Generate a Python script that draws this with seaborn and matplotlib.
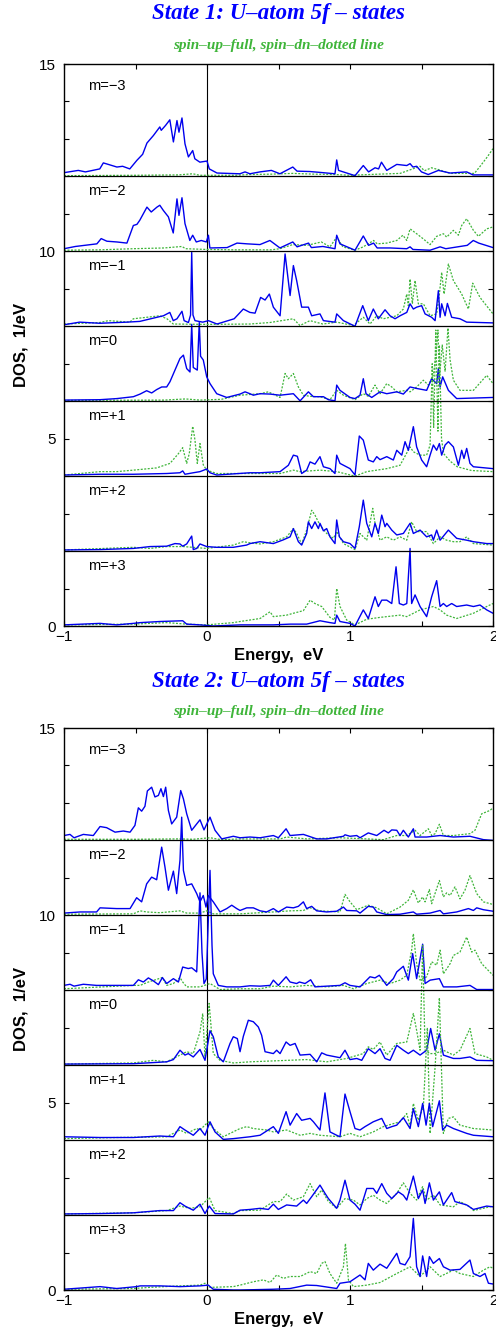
import numpy as np
import pandas as pd
import matplotlib
matplotlib.use("Agg")
import matplotlib.pyplot as plt
from matplotlib.ticker import MultipleLocator, FixedLocator
import seaborn as sns

# ---------------- DATA (energy eV, DOS 1/eV) ----------------
# orbital labels (top to bottom) and their vertical offsets
M_LABELS = ["m=\u22123", "m=\u22122", "m=\u22121", "m=0", "m=+1", "m=+2", "m=+3"]
OFFSETS = [12, 10, 8, 6, 4, 2, 0]
X_TICKS = [-1, 0, 1, 2]
X_TICK_LABELS = ["\u22121", "0", "1", "2"]
Y_TICKS = [0, 5, 10, 15]

# ---- State 1, spin up ----
s1_up_m3n = [(-1.00,0.10),(-0.90,0.16),(-0.85,0.12),(-0.75,0.20),(-0.725,0.36),(-0.69,0.32),(-0.63,0.25),(-0.59,0.27),(-0.54,0.20),(-0.49,0.43),(-0.45,0.59),(-0.42,0.89),(-0.375,1.09),(-0.33,1.32),(-0.32,1.23),(-0.29,1.36),(-0.26,1.51),(-0.235,0.92),(-0.21,1.49),(-0.196,1.18),(-0.175,1.56),(-0.154,0.87),(-0.13,0.52),(-0.10,0.69),(-0.085,0.47),(-0.05,0.38),(0.00,0.41),(0.016,0.20),(0.07,0.09),(0.23,0.07),(0.266,0.12),(0.30,0.07),(0.37,0.12),(0.45,0.16),(0.51,0.07),(0.60,0.25),(0.63,0.14),(0.72,0.13),(0.81,0.10),(0.895,0.07),(0.907,0.44),(0.92,0.16),(1.035,0.02),(1.093,0.29),(1.13,0.12),(1.175,0.23),(1.20,0.20),(1.22,0.38),(1.257,0.16),(1.327,0.32),(1.397,0.29),(1.42,0.34),(1.44,0.25),(1.466,0.27),(1.50,0.12),(1.547,0.05),(1.618,0.16),(1.70,0.09),(1.816,0.12),(1.86,0.04),(2.0,0.04)]
s1_up_m2n = [(-1.0,0.07),(-0.92,0.13),(-0.77,0.20),(-0.74,0.34),(-0.70,0.27),(-0.63,0.25),(-0.56,0.22),(-0.515,0.69),(-0.49,0.72),(-0.47,0.83),(-0.42,1.18),(-0.39,1.05),(-0.35,1.18),(-0.33,1.23),(-0.305,1.09),(-0.27,0.92),(-0.236,0.49),(-0.21,1.40),(-0.196,0.96),(-0.175,1.43),(-0.154,0.74),(-0.12,0.29),(-0.10,0.43),(-0.075,0.25),(-0.04,0.29),(-0.005,0.25),(0.01,0.43),(0.02,0.09),(0.14,0.10),(0.21,0.22),(0.28,0.20),(0.37,0.18),(0.44,0.29),(0.51,0.09),(0.60,0.25),(0.63,0.12),(0.71,0.22),(0.73,0.10),(0.81,0.13),(0.895,0.07),(0.907,0.43),(0.93,0.20),(1.035,0.03),(1.093,0.41),(1.13,0.16),(1.165,0.22),(1.19,0.09),(1.28,0.09),(1.397,0.07),(1.42,0.12),(1.44,0.05),(1.56,0.03),(1.63,0.12),(1.67,0.07),(1.82,0.16),(1.862,0.29),(1.90,0.22),(2.0,0.10)]
s1_up_m1n = [(-1.0,0.04),(-0.89,0.11),(-0.75,0.08),(-0.56,0.11),(-0.47,0.13),(-0.35,0.24),(-0.305,0.28),(-0.26,0.37),(-0.236,0.15),(-0.21,0.20),(-0.175,0.40),(-0.16,0.15),(-0.13,0.10),(-0.115,0.30),(-0.107,1.97),(-0.098,0.30),(-0.084,0.15),(-0.03,0.11),(0.01,0.15),(0.07,0.06),(0.19,0.20),(0.254,0.46),(0.30,0.37),(0.336,0.35),(0.375,0.77),(0.406,0.70),(0.436,0.86),(0.464,0.51),(0.511,0.28),(0.546,1.93),(0.581,0.82),(0.604,1.62),(0.627,1.22),(0.662,0.51),(0.709,0.51),(0.732,0.28),(0.79,0.33),(0.814,0.15),(0.895,0.11),(0.907,0.33),(0.954,0.15),(1.035,0.0),(1.089,0.55),(1.128,0.15),(1.163,0.46),(1.198,0.20),(1.245,0.44),(1.28,0.28),(1.315,0.20),(1.35,0.28),(1.397,0.37),(1.42,0.60),(1.443,0.46),(1.466,0.51),(1.501,0.55),(1.525,0.33),(1.571,0.24),(1.595,0.15),(1.618,0.95),(1.63,0.24),(1.641,0.60),(1.665,0.28),(1.681,0.61),(1.711,0.24),(1.769,0.20),(1.816,0.11),(2.0,0.09)]
s1_up_m0 = [(-1.0,0.03),(-0.75,0.04),(-0.63,0.07),(-0.515,0.12),(-0.468,0.19),(-0.422,0.28),(-0.387,0.22),(-0.352,0.31),(-0.317,0.38),(-0.282,0.38),(-0.259,0.52),(-0.224,0.83),(-0.189,1.14),(-0.165,1.23),(-0.142,0.87),(-0.119,0.78),(-0.107,2.05),(-0.096,0.90),(-0.068,0.83),(-0.054,2.10),(-0.045,1.20),(-0.026,1.10),(-0.002,0.65),(0.021,0.47),(0.068,0.20),(0.138,0.10),(0.231,0.19),(0.266,0.25),(0.30,0.20),(0.324,0.16),(0.371,0.20),(0.441,0.19),(0.511,0.16),(0.604,0.20),(0.651,0.01),(0.709,0.25),(0.744,0.12),(0.814,0.12),(0.849,0.04),(0.895,0.01),(0.907,0.43),(0.93,0.29),(1.0,0.10),(1.035,0.07),(1.07,0.16),(1.093,0.60),(1.112,0.20),(1.152,0.10),(1.21,0.25),(1.257,0.20),(1.327,0.25),(1.373,0.19),(1.42,0.38),(1.466,0.34),(1.536,0.29),(1.571,0.60),(1.606,0.47),(1.618,0.87),(1.63,0.38),(1.648,0.65),(1.688,0.29),(1.746,0.07),(2.0,0.10)]
s1_up_m1p = [(-1.0,0.03),(-0.75,0.05),(-0.515,0.05),(-0.282,0.07),(-0.189,0.09),(-0.170,0.14),(-0.154,0.05),(-0.096,0.09),(-0.049,0.12),(-0.002,0.19),(0.021,0.09),(0.068,0.03),(0.30,0.09),(0.371,0.09),(0.511,0.12),(0.569,0.29),(0.604,0.56),(0.632,0.53),(0.662,0.07),(0.697,0.16),(0.721,0.38),(0.755,0.32),(0.79,0.52),(0.814,0.25),(0.86,0.20),(0.895,0.07),(0.907,0.56),(0.93,0.34),(1.0,0.20),(1.035,0.03),(1.065,1.07),(1.093,0.96),(1.128,0.43),(1.163,0.38),(1.187,0.52),(1.21,0.44),(1.257,0.52),(1.303,0.43),(1.327,0.69),(1.362,0.56),(1.385,0.92),(1.408,0.69),(1.443,1.32),(1.466,0.78),(1.501,0.43),(1.536,0.25),(1.56,0.56),(1.583,0.83),(1.606,0.69),(1.625,0.87),(1.641,0.56),(1.665,0.83),(1.688,0.92),(1.723,0.78),(1.758,0.29),(1.781,0.69),(1.797,0.47),(1.816,0.74),(1.839,0.34),(1.863,0.25),(2.0,0.20)]
s1_up_m2p = [(-1.0,0.03),(-0.748,0.04),(-0.515,0.07),(-0.399,0.12),(-0.282,0.13),(-0.224,0.20),(-0.189,0.19),(-0.170,0.13),(-0.142,0.19),(-0.107,0.40),(-0.096,0.04),(-0.072,0.07),(-0.049,0.19),(-0.002,0.12),(0.068,0.10),(0.184,0.10),(0.277,0.16),(0.301,0.20),(0.371,0.25),(0.464,0.20),(0.534,0.30),(0.581,0.38),(0.604,0.60),(0.639,0.25),(0.662,0.16),(0.697,0.47),(0.709,0.78),(0.732,0.60),(0.755,0.78),(0.779,0.60),(0.79,0.74),(0.814,0.54),(0.837,0.60),(0.86,0.38),(0.895,0.20),(0.907,0.83),(0.926,0.38),(0.954,0.25),(1.0,0.20),(1.035,0.07),(1.065,0.65),(1.093,1.36),(1.117,0.74),(1.152,0.38),(1.175,0.74),(1.198,0.47),(1.222,0.96),(1.245,0.65),(1.257,0.74),(1.292,0.56),(1.327,0.43),(1.373,0.47),(1.42,0.74),(1.443,0.47),(1.49,0.56),(1.536,0.38),(1.571,0.43),(1.583,0.29),(1.606,0.56),(1.63,0.29),(1.688,0.56),(1.746,0.34),(1.816,0.29),(1.863,0.25),(1.956,0.20),(2.0,0.20)]
s1_up_m3p = [(-1.0,0.03),(-0.748,0.07),(-0.632,0.03),(-0.515,0.07),(-0.468,0.09),(-0.329,0.12),(-0.170,0.14),(-0.142,0.05),(-0.049,0.03),(0.044,0.0),(0.231,0.03),(0.464,0.03),(0.581,0.05),(0.697,0.05),(0.79,0.14),(0.86,0.09),(0.895,0.07),(0.907,0.29),(0.93,0.12),(1.0,0.07),(1.035,0.0),(1.093,0.43),(1.128,0.20),(1.175,0.78),(1.198,0.52),(1.222,0.69),(1.257,0.69),(1.292,0.60),(1.322,1.58),(1.345,0.60),(1.373,0.56),(1.397,0.60),(1.42,2.07),(1.431,0.60),(1.455,0.83),(1.49,0.52),(1.536,0.25),(1.571,0.78),(1.606,1.21),(1.63,0.52),(1.653,0.60),(1.676,0.52),(1.711,0.60),(1.746,0.52),(1.816,0.56),(1.863,0.52),(1.909,0.56),(1.956,0.43),(2.0,0.34)]

# ---- State 1, spin down ----
s1_dn_m3n = [(-1.0,0.02),(-0.5,0.03),(-0.2,0.04),(-0.1,0.07),(-0.05,0.03),(0.2,0.03),(0.3,0.05),(0.45,0.06),(0.6,0.08),(0.75,0.06),(0.9,0.05),(1.0,0.03),(1.2,0.06),(1.35,0.08),(1.49,0.27),(1.52,0.15),(1.57,0.23),(1.62,0.18),(1.70,0.08),(1.87,0.08),(1.91,0.27),(1.96,0.52),(2.0,0.74)]
s1_dn_m2n = [(-1.0,0.03),(-0.75,0.04),(-0.515,0.07),(-0.30,0.09),(-0.175,0.13),(-0.15,0.07),(0.0,0.05),(0.2,0.04),(0.45,0.04),(0.51,0.07),(0.60,0.18),(0.70,0.16),(0.80,0.25),(0.86,0.12),(0.907,0.38),(0.95,0.12),(1.035,0.03),(1.093,0.12),(1.165,0.29),(1.19,0.20),(1.257,0.22),(1.327,0.29),(1.37,0.43),(1.397,0.29),(1.42,0.60),(1.466,0.47),(1.51,0.34),(1.56,0.18),(1.606,0.40),(1.653,0.47),(1.676,0.38),(1.723,0.56),(1.758,0.43),(1.781,0.69),(1.816,0.87),(1.863,0.56),(1.898,0.40),(1.956,0.60),(2.0,0.65)]
s1_dn_m1n = [(-1.0,0.06),(-0.75,0.10),(-0.69,0.15),(-0.54,0.11),(-0.515,0.20),(-0.42,0.24),(-0.33,0.28),(-0.28,0.20),(-0.236,0.06),(0.0,0.05),(0.3,0.06),(0.44,0.10),(0.604,0.20),(0.65,0.02),(0.72,0.15),(0.81,0.06),(0.907,0.11),(1.024,0.02),(1.093,0.24),(1.14,0.06),(1.187,0.28),(1.233,0.20),(1.327,0.28),(1.373,0.46),(1.397,0.86),(1.408,0.55),(1.42,1.26),(1.436,0.60),(1.455,1.22),(1.478,0.60),(1.513,0.60),(1.56,0.28),(1.606,0.33),(1.625,0.86),(1.641,1.44),(1.658,0.86),(1.688,1.66),(1.723,1.22),(1.781,0.86),(1.828,0.46),(1.858,1.15),(1.909,0.77),(2.0,0.33)]
s1_dn_m0 = [(-1.0,0.02),(-0.3,0.03),(-0.15,0.06),(-0.05,0.03),(0.1,0.05),(0.231,0.16),(0.371,0.20),(0.429,0.25),(0.511,0.10),(0.546,0.74),(0.569,0.60),(0.604,0.74),(0.639,0.38),(0.674,0.16),(0.721,0.13),(0.79,0.12),(0.86,0.04),(0.907,0.29),(0.954,0.16),(1.035,0.04),(1.093,0.20),(1.128,0.13),(1.175,0.43),(1.21,0.20),(1.257,0.47),(1.292,0.38),(1.327,0.25),(1.397,0.29),(1.42,0.25),(1.466,0.38),(1.513,0.56),(1.548,0.43),(1.583,0.70),(1.60,1.20),(1.615,1.90),(1.625,0.60),(1.645,1.50),(1.665,0.80),(1.685,1.95),(1.70,1.10),(1.723,0.56),(1.769,0.29),(1.863,0.29),(1.956,0.69),(2.0,0.47)]
s1_dn_m1p = [(-1.0,0.03),(-0.748,0.12),(-0.632,0.12),(-0.515,0.16),(-0.352,0.22),(-0.259,0.34),(-0.20,0.60),(-0.170,0.76),(-0.142,0.34),(-0.124,0.60),(-0.10,1.33),(-0.084,0.96),(-0.068,0.34),(-0.049,0.87),(-0.026,0.30),(-0.002,0.16),(0.068,0.07),(0.3,0.07),(0.511,0.07),(0.604,0.16),(0.651,0.12),(0.79,0.16),(0.907,0.12),(1.035,0.0),(1.117,0.12),(1.257,0.20),(1.35,0.29),(1.42,0.78),(1.443,0.65),(1.49,0.56),(1.536,0.56),(1.56,0.83),(1.575,3.0),(1.585,1.3),(1.600,3.9),(1.615,1.2),(1.625,3.5),(1.64,1.0),(1.655,0.6),(1.70,0.4),(1.75,0.25),(1.85,0.15),(2.0,0.12)]
s1_dn_m2p = [(-1.0,0.03),(-0.515,0.10),(-0.399,0.07),(-0.282,0.12),(-0.165,0.12),(-0.002,0.07),(0.184,0.16),(0.254,0.25),(0.301,0.22),(0.371,0.19),(0.464,0.25),(0.557,0.38),(0.604,0.60),(0.627,0.47),(0.662,0.19),(0.697,0.56),(0.732,1.09),(0.755,0.96),(0.79,0.69),(0.837,0.47),(0.884,0.34),(0.907,0.52),(0.954,0.20),(1.035,0.04),(1.07,0.47),(1.117,0.29),(1.159,1.14),(1.175,0.74),(1.21,0.29),(1.257,0.38),(1.303,0.29),(1.35,0.38),(1.397,0.29),(1.431,0.78),(1.466,0.52),(1.536,0.52),(1.583,0.20),(1.63,0.38),(1.676,0.29),(1.723,0.25),(1.769,0.25),(1.816,0.38),(1.863,0.20),(2.0,0.16)]
s1_dn_m3p = [(-1.0,0.03),(-0.515,0.05),(-0.282,0.09),(-0.142,0.05),(-0.002,0.03),(0.184,0.09),(0.231,0.12),(0.301,0.16),(0.371,0.20),(0.441,0.38),(0.464,0.25),(0.557,0.29),(0.604,0.34),(0.674,0.41),(0.721,0.69),(0.755,0.60),(0.802,0.52),(0.86,0.23),(0.891,0.16),(0.907,1.00),(0.93,0.52),(0.977,0.16),(1.035,0.03),(1.117,0.18),(1.21,0.23),(1.35,0.29),(1.397,0.25),(1.49,0.43),(1.583,0.52),(1.63,0.43),(1.676,0.29),(1.746,0.20),(1.863,0.34),(1.956,0.52),(2.0,0.60)]

# ---- State 2, spin up ----
s2_up_m3n = [(-1.0,0.13),(-0.958,0.16),(-0.93,0.07),(-0.865,0.16),(-0.795,0.13),(-0.748,0.37),(-0.702,0.34),(-0.643,0.22),(-0.585,0.25),(-0.538,0.22),(-0.504,0.40),(-0.48,0.87),(-0.457,0.78),(-0.434,0.91),(-0.417,1.32),(-0.387,1.42),(-0.364,1.16),(-0.340,1.20),(-0.322,1.38),(-0.305,1.17),(-0.289,1.42),(-0.270,0.80),(-0.247,0.44),(-0.212,0.62),(-0.184,1.33),(-0.165,1.11),(-0.142,0.71),(-0.107,0.27),(-0.072,0.44),(-0.049,0.55),(-0.021,0.28),(0.021,0.62),(0.056,0.27),(0.103,0.04),(0.161,0.09),(0.184,0.11),(0.231,0.07),(0.301,0.09),(0.371,0.07),(0.464,0.13),(0.499,0.07),(0.553,0.31),(0.581,0.13),(0.674,0.16),(0.767,0.04),(0.837,0.04),(0.954,0.11),(0.965,0.15),(1.0,0.11),(1.047,0.13),(1.07,0.07),(1.128,0.20),(1.187,0.13),(1.238,0.27),(1.268,0.20),(1.292,0.28),(1.327,0.27),(1.35,0.13),(1.373,0.27),(1.408,0.09),(1.443,0.31),(1.455,0.09),(1.536,0.09),(1.63,0.13),(1.723,0.09),(1.839,0.11),(1.933,0.02),(2.0,0.0)]
s2_up_m2n = [(-1.0,0.06),(-0.888,0.09),(-0.772,0.09),(-0.748,0.20),(-0.632,0.18),(-0.538,0.18),(-0.492,0.47),(-0.457,0.36),(-0.422,0.84),(-0.387,1.02),(-0.352,0.95),(-0.317,1.82),(-0.294,1.29),(-0.270,0.67),(-0.235,1.18),(-0.212,0.58),(-0.189,1.47),(-0.177,2.62),(-0.165,1.20),(-0.142,0.80),(-0.107,0.84),(-0.072,0.58),(-0.049,0.36),(-0.026,0.53),(-0.007,0.22),(0.009,0.53),(0.044,0.36),(0.091,0.09),(0.138,0.18),(0.173,0.27),(0.208,0.18),(0.231,0.13),(0.278,0.20),(0.324,0.20),(0.371,0.12),(0.417,0.09),(0.464,0.18),(0.499,0.09),(0.557,0.22),(0.604,0.20),(0.639,0.24),(0.674,0.36),(0.697,0.18),(0.732,0.24),(0.767,0.12),(0.837,0.09),(0.907,0.11),(0.954,0.22),(0.977,0.13),(1.047,0.12),(1.07,0.06),(1.128,0.24),(1.163,0.22),(1.187,0.09),(1.257,0.02),(1.35,0.03),(1.443,0.09),(1.466,0.03),(1.56,0.06),(1.63,0.13),(1.653,0.04),(1.746,0.09),(1.828,0.18),(1.863,0.13),(1.886,0.20),(1.933,0.15),(2.0,0.11)]
s2_up_m1n = [(-1.0,0.13),(-0.958,0.16),(-0.93,0.11),(-0.865,0.16),(-0.772,0.13),(-0.632,0.13),(-0.515,0.13),(-0.48,0.28),(-0.445,0.22),(-0.41,0.33),(-0.375,0.25),(-0.34,0.15),(-0.312,0.34),(-0.282,0.18),(-0.235,0.31),(-0.20,0.22),(-0.170,0.62),(-0.131,0.58),(-0.107,0.60),(-0.072,0.49),(-0.049,2.60),(-0.035,1.00),(-0.021,0.18),(-0.005,0.30),(0.021,3.20),(0.035,1.20),(0.044,0.44),(0.079,0.13),(0.138,0.09),(0.231,0.09),(0.301,0.12),(0.371,0.11),(0.441,0.13),(0.464,0.27),(0.499,0.13),(0.553,0.36),(0.581,0.22),(0.627,0.18),(0.646,0.22),(0.686,0.18),(0.725,0.28),(0.755,0.09),(0.837,0.11),(0.93,0.13),(0.965,0.20),(1.0,0.13),(1.07,0.09),(1.14,0.36),(1.175,0.33),(1.205,0.40),(1.257,0.13),(1.303,0.31),(1.327,0.49),(1.373,0.64),(1.408,0.27),(1.438,0.98),(1.466,0.31),(1.508,1.23),(1.525,0.18),(1.56,0.27),(1.625,0.31),(1.653,0.09),(1.746,0.09),(1.839,0.13),(1.886,0.02),(2.0,0.02)]
s2_up_m0 = [(-1.0,0.03),(-0.515,0.04),(-0.375,0.07),(-0.282,0.09),(-0.235,0.15),(-0.189,0.40),(-0.154,0.27),(-0.131,0.31),(-0.096,0.22),(-0.049,0.42),(-0.014,0.13),(0.021,0.92),(0.044,0.76),(0.079,0.22),(0.114,0.09),(0.161,0.58),(0.184,0.76),(0.212,0.71),(0.231,0.36),(0.254,0.77),(0.289,1.20),(0.324,1.16),(0.359,1.02),(0.382,0.80),(0.406,0.36),(0.464,0.31),(0.487,0.40),(0.511,0.31),(0.553,0.62),(0.581,0.53),(0.616,0.58),(0.651,0.27),(0.721,0.29),(0.767,0.09),(0.802,0.33),(0.837,0.27),(0.93,0.20),(0.965,0.40),(1.0,0.15),(1.047,0.18),(1.082,0.13),(1.128,0.44),(1.175,0.31),(1.21,0.44),(1.245,0.18),(1.28,0.13),(1.327,0.53),(1.373,0.40),(1.408,0.31),(1.443,0.40),(1.49,0.27),(1.536,0.40),(1.564,0.98),(1.595,0.40),(1.625,0.84),(1.653,0.27),(1.723,0.18),(1.769,0.18),(1.839,0.22),(1.886,0.13),(2.0,0.12)]
s2_up_m1p = [(-1.0,0.09),(-0.748,0.07),(-0.515,0.07),(-0.329,0.11),(-0.235,0.09),(-0.189,0.36),(-0.154,0.27),(-0.096,0.13),(-0.049,0.31),(-0.014,0.13),(0.021,0.49),(0.056,0.22),(0.114,0.02),(0.184,0.04),(0.301,0.09),(0.371,0.13),(0.464,0.36),(0.499,0.18),(0.553,0.76),(0.581,0.40),(0.627,0.71),(0.662,0.53),(0.721,0.58),(0.744,0.49),(0.79,0.27),(0.825,1.26),(0.86,0.22),(0.907,0.13),(0.93,0.09),(0.965,1.23),(1.0,0.76),(1.035,0.31),(1.07,0.27),(1.105,0.36),(1.163,0.49),(1.222,0.58),(1.257,0.31),(1.292,0.36),(1.327,0.40),(1.373,0.60),(1.42,0.31),(1.443,0.84),(1.478,0.36),(1.508,0.98),(1.532,0.40),(1.555,0.98),(1.578,0.36),(1.625,1.05),(1.648,0.27),(1.676,0.40),(1.723,0.31),(1.816,0.18),(1.863,0.13),(2.0,0.09)]
s2_up_m2p = [(-1.0,0.03),(-0.748,0.04),(-0.515,0.06),(-0.329,0.12),(-0.235,0.12),(-0.189,0.33),(-0.154,0.24),(-0.096,0.13),(-0.049,0.29),(-0.014,0.04),(0.016,0.24),(0.056,0.04),(0.184,0.03),(0.231,0.13),(0.301,0.15),(0.371,0.18),(0.429,0.15),(0.464,0.29),(0.499,0.15),(0.557,0.27),(0.627,0.24),(0.674,0.40),(0.697,0.31),(0.732,0.49),(0.79,0.80),(0.825,0.58),(0.849,0.44),(0.907,0.18),(0.93,0.40),(0.965,0.93),(1.0,0.40),(1.035,0.29),(1.07,0.13),(1.117,0.71),(1.163,0.71),(1.187,0.58),(1.222,0.84),(1.257,0.58),(1.292,0.44),(1.338,0.62),(1.373,0.53),(1.397,0.40),(1.443,1.04),(1.478,0.44),(1.508,0.67),(1.525,0.31),(1.555,0.86),(1.583,0.40),(1.625,0.62),(1.653,0.27),(1.711,0.60),(1.734,0.36),(1.816,0.27),(1.863,0.15),(1.956,0.24),(2.0,0.22)]
s2_up_m3p = [(-1.0,0.02),(-0.748,0.09),(-0.632,0.04),(-0.492,0.09),(-0.468,0.11),(-0.329,0.11),(-0.189,0.09),(-0.049,0.11),(0.009,0.13),(0.044,0.02),(0.184,0.0),(0.231,0.0),(0.464,0.02),(0.581,0.04),(0.697,0.13),(0.767,0.12),(0.907,0.04),(0.93,0.18),(1.0,0.22),(1.035,0.31),(1.07,0.40),(1.105,0.27),(1.128,0.71),(1.163,0.53),(1.21,0.69),(1.257,0.58),(1.327,0.98),(1.35,0.71),(1.385,0.67),(1.42,0.89),(1.443,1.91),(1.466,0.62),(1.49,0.36),(1.508,0.91),(1.536,0.36),(1.555,0.89),(1.583,0.71),(1.625,0.84),(1.653,0.62),(1.70,0.53),(1.769,0.55),(1.839,0.80),(1.863,0.44),(1.909,0.36),(1.944,0.44),(1.968,0.18),(2.0,0.16)]

# ---- State 2, spin down ----
s2_dn_m3n = [(-1.0,0.03),(-0.5,0.03),(-0.189,0.04),(-0.1,0.03),(0.021,0.07),(0.1,0.02),(0.231,0.04),(0.511,0.04),(0.557,0.09),(0.697,0.04),(0.93,0.07),(1.117,0.04),(1.233,0.02),(1.327,0.13),(1.397,0.13),(1.455,0.27),(1.49,0.13),(1.548,0.31),(1.571,0.13),(1.595,0.18),(1.625,0.43),(1.653,0.13),(1.723,0.13),(1.839,0.18),(1.874,0.27),(1.921,0.71),(1.979,0.80),(2.0,0.87)]
s2_dn_m2n = [(-1.0,0.03),(-0.515,0.04),(-0.468,0.12),(-0.422,0.09),(-0.329,0.07),(-0.189,0.12),(-0.142,0.06),(-0.049,0.06),(-0.002,0.12),(0.044,0.04),(0.231,0.04),(0.464,0.09),(0.581,0.12),(0.674,0.13),(0.721,0.20),(0.79,0.12),(0.93,0.09),(0.965,0.56),(1.0,0.36),(1.047,0.15),(1.128,0.27),(1.187,0.20),(1.257,0.04),(1.35,0.22),(1.408,0.40),(1.443,0.68),(1.478,0.33),(1.508,0.49),(1.525,0.36),(1.555,0.69),(1.571,0.31),(1.625,0.93),(1.653,0.49),(1.676,0.60),(1.70,0.53),(1.734,0.76),(1.769,0.44),(1.804,0.67),(1.839,1.06),(1.886,0.58),(1.933,0.36),(2.0,0.29)]
s2_dn_m1n = [(-1.0,0.04),(-0.515,0.13),(-0.468,0.13),(-0.41,0.22),(-0.312,0.34),(-0.282,0.13),(-0.235,0.18),(-0.189,0.34),(-0.170,0.22),(-0.142,0.09),(-0.049,0.09),(0.021,0.18),(0.091,0.02),(0.231,0.04),(0.371,0.04),(0.464,0.11),(0.581,0.09),(0.697,0.13),(0.837,0.09),(0.954,0.13),(1.024,0.04),(1.117,0.18),(1.21,0.27),(1.28,0.18),(1.35,0.27),(1.397,0.40),(1.431,1.07),(1.443,1.51),(1.466,0.71),(1.49,0.27),(1.536,0.36),(1.571,0.76),(1.606,0.67),(1.63,1.07),(1.653,0.44),(1.70,0.71),(1.723,0.93),(1.769,1.02),(1.816,1.42),(1.851,1.02),(1.874,1.07),(1.921,0.71),(2.0,0.40)]
s2_dn_m0 = [(-1.0,0.03),(-0.515,0.06),(-0.375,0.13),(-0.282,0.09),(-0.142,0.36),(-0.096,0.31),(-0.049,0.89),(-0.03,1.38),(-0.014,0.22),(0.015,1.65),(0.044,0.31),(0.091,0.13),(0.184,0.06),(0.301,0.09),(0.697,0.15),(0.837,0.09),(0.977,0.18),(1.093,0.31),(1.128,0.49),(1.163,0.42),(1.21,0.62),(1.257,0.27),(1.327,0.58),(1.397,0.62),(1.443,1.38),(1.466,0.93),(1.49,0.40),(1.508,3.20),(1.525,0.40),(1.56,0.31),(1.595,0.31),(1.653,0.40),(1.723,0.27),(1.769,0.40),(1.839,0.98),(1.874,0.31),(1.956,0.22),(2.0,0.13)]
s2_dn_m1p = [(-1.0,0.04),(-0.632,0.07),(-0.282,0.09),(-0.189,0.27),(-0.142,0.18),(-0.072,0.31),(-0.049,0.27),(0.009,0.49),(0.044,0.31),(0.114,0.09),(0.161,0.18),(0.231,0.31),(0.278,0.36),(0.324,0.31),(0.417,0.27),(0.464,0.22),(0.557,0.27),(0.651,0.13),(0.721,0.18),(0.79,0.13),(0.93,0.09),(1.0,0.18),(1.07,0.09),(1.163,0.22),(1.233,0.36),(1.303,0.44),(1.35,0.49),(1.397,0.71),(1.42,0.36),(1.443,0.98),(1.478,0.53),(1.513,0.89),(1.541,3.00),(1.56,0.18),(1.595,1.95),(1.625,3.80),(1.653,0.18),(1.688,0.58),(1.723,0.62),(1.769,0.40),(1.863,0.31),(2.0,0.27)]
s2_dn_m2p = [(-1.0,0.03),(-0.515,0.06),(-0.282,0.12),(-0.189,0.24),(-0.119,0.18),(-0.049,0.22),(0.016,0.47),(0.056,0.12),(0.184,0.04),(0.231,0.12),(0.371,0.13),(0.464,0.36),(0.511,0.36),(0.557,0.56),(0.604,0.40),(0.674,0.49),(0.721,0.84),(0.767,0.49),(0.802,0.67),(0.849,0.36),(0.907,0.18),(0.965,0.44),(1.024,0.40),(1.07,0.27),(1.117,0.44),(1.163,0.53),(1.21,0.40),(1.257,0.31),(1.327,0.58),(1.373,0.86),(1.42,0.58),(1.466,0.40),(1.508,0.76),(1.536,0.40),(1.583,0.53),(1.63,0.27),(1.723,0.22),(1.769,0.36),(1.839,0.22),(1.863,0.12),(2.0,0.24)]
s2_dn_m3p = [(-1.0,0.02),(-0.515,0.04),(-0.399,0.07),(-0.189,0.11),(-0.049,0.13),(-0.014,0.18),(0.021,0.07),(0.184,0.09),(0.231,0.13),(0.324,0.22),(0.394,0.27),(0.441,0.20),(0.487,0.40),(0.534,0.31),(0.581,0.36),(0.651,0.36),(0.721,0.49),(0.767,0.44),(0.802,0.71),(0.825,0.76),(0.86,0.44),(0.907,0.18),(0.954,0.62),(0.968,1.24),(0.989,0.27),(1.024,0.09),(1.117,0.13),(1.21,0.20),(1.327,0.44),(1.373,0.53),(1.42,0.62),(1.49,0.36),(1.56,0.62),(1.63,0.36),(1.723,0.53),(1.769,0.44),(1.863,0.36),(1.933,0.53),(1.979,0.62),(2.0,0.58)]

STATES = [
    ("State 1: U\u2013atom 5f \u2013 states",
     [s1_up_m3n, s1_up_m2n, s1_up_m1n, s1_up_m0, s1_up_m1p, s1_up_m2p, s1_up_m3p],
     [s1_dn_m3n, s1_dn_m2n, s1_dn_m1n, s1_dn_m0, s1_dn_m1p, s1_dn_m2p, s1_dn_m3p]),
    ("State 2: U\u2013atom 5f \u2013 states",
     [s2_up_m3n, s2_up_m2n, s2_up_m1n, s2_up_m0, s2_up_m1p, s2_up_m2p, s2_up_m3p],
     [s2_dn_m3n, s2_dn_m2n, s2_dn_m1n, s2_dn_m0, s2_dn_m1p, s2_dn_m2p, s2_dn_m3p]),
]
SUBTITLE = "spin\u2013up\u2013full, spin\u2013dn\u2013dotted line"

# ---------------- STYLE ----------------
sns.set_theme(style="white")
plt.rcParams["font.family"] = ["Liberation Sans", "DejaVu Sans"]
plt.rcParams["axes.unicode_minus"] = True
plt.rcParams["text.color"] = "black"
plt.rcParams["axes.labelcolor"] = "black"
plt.rcParams["xtick.color"] = "black"
plt.rcParams["ytick.color"] = "black"

BLUE = "#0000ee"
GREEN = "#3fb53a"
W, H = 496, 1336
fig = plt.figure(figsize=(W / 100, H / 100), dpi=100)

ax_rects = [
    (64 / W, 1 - 626 / H, 429 / W, 562 / H),
    (64 / W, 1 - 1290 / H, 429 / W, 562 / H),
]
title_y = [14, 681]
sub_y = [46, 712]
cx = (64 + 493) / 2 / W

for (title, ups, dns), rect, ty, sy in zip(STATES, ax_rects, title_y, sub_y):
    ax = fig.add_axes(rect)
    for lab, off, up, dn in zip(M_LABELS, OFFSETS, ups, dns):
        dfu = pd.DataFrame(up, columns=["E", "dos"])
        dfu["y"] = dfu["dos"] + off
        dfd = pd.DataFrame(dn, columns=["E", "dos"])
        dfd["y"] = dfd["dos"] + off
        sns.lineplot(data=dfd, x="E", y="y", ax=ax, color=GREEN, lw=0.9,
                     linestyle=(0, (1.6, 1.2)), estimator=None, sort=False)
        sns.lineplot(data=dfu, x="E", y="y", ax=ax, color=BLUE, lw=1.0,
                     estimator=None, sort=False)
        if off > 0:
            ax.axhline(off, color="black", lw=0.9, zorder=5)
        ly = off + (2.4 if off == 12 else 1.6)
        ax.text(-0.83, ly, lab, fontsize=10.5, ha="left", va="center", color="black")
    ax.axvline(0, color="black", lw=0.8, zorder=1)
    ax.set_xlim(-1, 2)
    ax.set_ylim(0, 15)
    ax.xaxis.set_major_locator(FixedLocator(X_TICKS))
    ax.set_xticklabels(X_TICK_LABELS)
    ax.xaxis.set_minor_locator(MultipleLocator(0.5))
    ax.yaxis.set_major_locator(FixedLocator(Y_TICKS))
    ax.yaxis.set_minor_locator(MultipleLocator(1))
    ax.tick_params(which="both", direction="in", top=True, right=True,
                   bottom=True, left=True, labelsize=11, colors="black",
                   labelcolor="black", length=3.5, width=0.8)
    ax.tick_params(axis="y", which="both", pad=6)
    ax.tick_params(axis="x", which="both", pad=3)
    for sp in ax.spines.values():
        sp.set_color("black")
        sp.set_linewidth(1.0)
    ax.set_xlabel("Energy,  eV", fontsize=12, fontweight="bold", labelpad=3,
                  color="black")
    ax.set_ylabel("DOS,  1/eV", fontsize=12, fontweight="bold", labelpad=7,
                  color="black")
    fig.text(cx, 1 - ty / H, title, ha="center", va="center", color="#0000ff",
             fontsize=16.5, fontweight="bold", fontstyle="italic",
             family=["Liberation Serif", "DejaVu Serif"])
    fig.text(cx, 1 - sy / H, SUBTITLE, ha="center", va="center", color=GREEN,
             fontsize=11, fontweight="bold", fontstyle="italic",
             family=["Liberation Serif", "DejaVu Serif"])

fig.savefig("out.png", dpi=100, facecolor="white")
